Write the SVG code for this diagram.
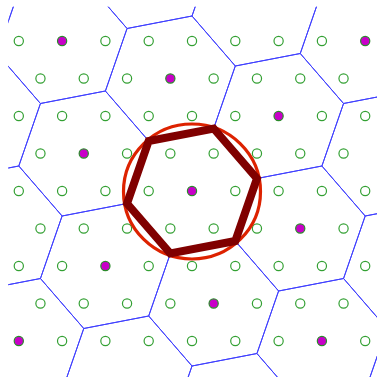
<svg xmlns="http://www.w3.org/2000/svg" xmlns:xlink="http://www.w3.org/1999/xlink" width="377" height="377" viewBox="0 0 377 377">
<style>
.cell{fill:none;stroke:#4040ff;stroke-width:1}
.pt{fill:none;stroke:#33a033;stroke-width:1.2}
.mg{fill:#c800c8;stroke:#2a8a2a;stroke-width:1.2}
</style>
<defs>
<polygon id="hex" points="43.3,50 -21.65,62.5 -64.95,12.5 -43.3,-50 21.65,-62.5 64.95,-12.5"/>
<circle id="o" r="4.6"/>
<clipPath id="plot"><rect x="8.3" y="6.7" width="380" height="380"/></clipPath>
</defs>
<rect width="377" height="377" fill="#ffffff"/>
<g id="connectors" class="cell" clip-path="url(#plot)">
<use xlink:href="#hex" href="#hex" x="148.7" y="-34"/>
<use xlink:href="#hex" href="#hex" x="170.35" y="78.5"/>
<use xlink:href="#hex" href="#hex" x="213.65" y="303.5"/>
<use xlink:href="#hex" href="#hex" x="235.3" y="416"/>
<use xlink:href="#hex" href="#hex" x="256.95" y="3.5"/>
<use xlink:href="#hex" href="#hex" x="278.6" y="116"/>
<use xlink:href="#hex" href="#hex" x="300.25" y="228.5"/>
<use xlink:href="#hex" href="#hex" x="321.9" y="341"/>
<use xlink:href="#hex" href="#hex" x="62.1" y="41"/>
<use xlink:href="#hex" href="#hex" x="83.75" y="153.5"/>
<use xlink:href="#hex" href="#hex" x="105.4" y="266"/>
<use xlink:href="#hex" href="#hex" x="127.05" y="378.5"/>
<use xlink:href="#hex" href="#hex" x="365.2" y="41"/>
<use xlink:href="#hex" href="#hex" x="386.85" y="153.5"/>
<use xlink:href="#hex" href="#hex" x="408.5" y="266"/>
<use xlink:href="#hex" href="#hex" x="430.15" y="378.5"/>
<use xlink:href="#hex" href="#hex" x="-46.15" y="3.5"/>
<use xlink:href="#hex" href="#hex" x="-24.5" y="116"/>
<use xlink:href="#hex" href="#hex" x="-2.85" y="228.5"/>
<use xlink:href="#hex" href="#hex" x="18.8" y="341"/>
</g>
<g id="points" class="pt">
<use href="#o" x="18.8" y="41"/><use href="#o" x="105.4" y="41"/><use href="#o" x="148.7" y="41"/><use href="#o" x="192" y="41"/><use href="#o" x="235.3" y="41"/><use href="#o" x="278.6" y="41"/><use href="#o" x="321.9" y="41"/>
<use href="#o" x="40.45" y="78.5"/><use href="#o" x="83.75" y="78.5"/><use href="#o" x="127.05" y="78.5"/><use href="#o" x="213.65" y="78.5"/><use href="#o" x="256.95" y="78.5"/><use href="#o" x="300.25" y="78.5"/><use href="#o" x="343.55" y="78.5"/>
<use href="#o" x="18.8" y="116"/><use href="#o" x="62.1" y="116"/><use href="#o" x="105.4" y="116"/><use href="#o" x="148.7" y="116"/><use href="#o" x="192" y="116"/><use href="#o" x="235.3" y="116"/><use href="#o" x="321.9" y="116"/><use href="#o" x="365.2" y="116"/>
<use href="#o" x="40.45" y="153.5"/><use href="#o" x="127.05" y="153.5"/><use href="#o" x="170.35" y="153.5"/><use href="#o" x="213.65" y="153.5"/><use href="#o" x="256.95" y="153.5"/><use href="#o" x="300.25" y="153.5"/><use href="#o" x="343.55" y="153.5"/>
<use href="#o" x="18.8" y="191"/><use href="#o" x="62.1" y="191"/><use href="#o" x="105.4" y="191"/><use href="#o" x="148.7" y="191"/><use href="#o" x="235.3" y="191"/><use href="#o" x="278.6" y="191"/><use href="#o" x="321.9" y="191"/><use href="#o" x="365.2" y="191"/>
<use href="#o" x="40.45" y="228.5"/><use href="#o" x="83.75" y="228.5"/><use href="#o" x="127.05" y="228.5"/><use href="#o" x="170.35" y="228.5"/><use href="#o" x="213.65" y="228.5"/><use href="#o" x="256.95" y="228.5"/><use href="#o" x="343.55" y="228.5"/>
<use href="#o" x="18.8" y="266"/><use href="#o" x="62.1" y="266"/><use href="#o" x="148.7" y="266"/><use href="#o" x="192" y="266"/><use href="#o" x="235.3" y="266"/><use href="#o" x="278.6" y="266"/><use href="#o" x="321.9" y="266"/><use href="#o" x="365.2" y="266"/>
<use href="#o" x="40.45" y="303.5"/><use href="#o" x="83.75" y="303.5"/><use href="#o" x="127.05" y="303.5"/><use href="#o" x="170.35" y="303.5"/><use href="#o" x="256.95" y="303.5"/><use href="#o" x="300.25" y="303.5"/><use href="#o" x="343.55" y="303.5"/>
<use href="#o" x="62.1" y="341"/><use href="#o" x="105.4" y="341"/><use href="#o" x="148.7" y="341"/><use href="#o" x="192" y="341"/><use href="#o" x="235.3" y="341"/><use href="#o" x="278.6" y="341"/><use href="#o" x="365.2" y="341"/>
</g>
<g id="sites" class="mg">
<use href="#o" x="62.1" y="41"/><use href="#o" x="365.2" y="41"/><use href="#o" x="170.35" y="78.5"/><use href="#o" x="278.6" y="116"/><use href="#o" x="83.75" y="153.5"/><use href="#o" x="192" y="191"/><use href="#o" x="300.25" y="228.5"/><use href="#o" x="105.4" y="266"/><use href="#o" x="213.65" y="303.5"/><use href="#o" x="18.8" y="341"/><use href="#o" x="321.9" y="341"/>
</g>
<g id="ring">
<ellipse cx="192" cy="191.5" rx="68.5" ry="67.5" fill="none" stroke="#dd2200" stroke-width="3.2"/>
</g>
<g id="central-cell">
<use href="#hex" x="192" y="191" fill="none" stroke="#800000" stroke-width="8" stroke-linejoin="miter"/>
</g>
</svg>
